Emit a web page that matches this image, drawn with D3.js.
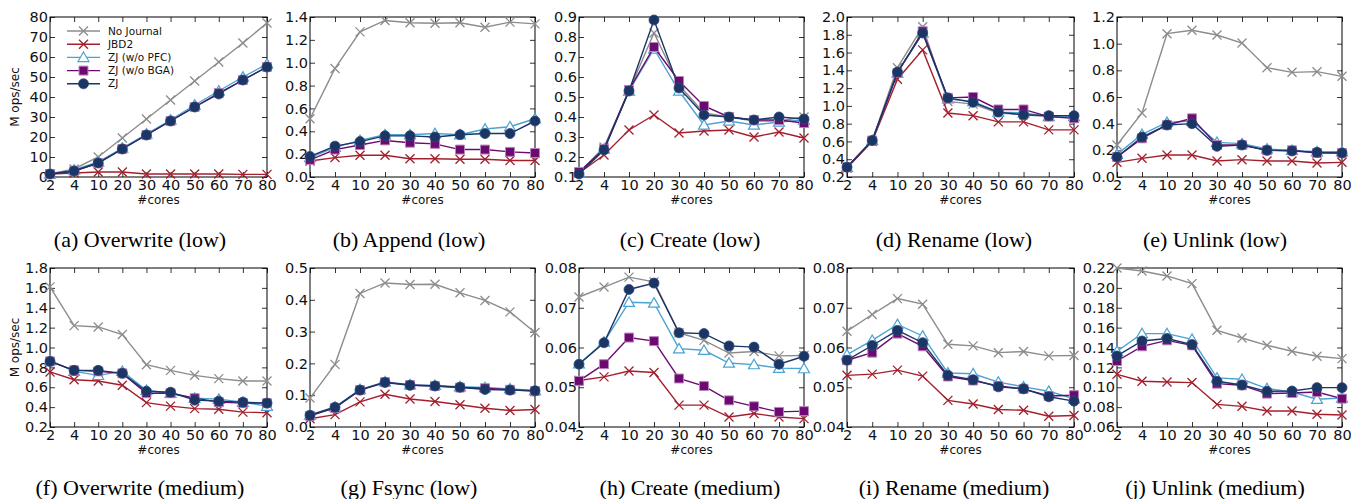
<!DOCTYPE html>
<html>
<head>
<meta charset="utf-8">
<script src="https://cdn.jsdelivr.net/npm/d3@7"></script>
<style>
  body { margin: 0; background: #fff; }
  svg { display: block; }
</style>
</head>
<body>
<svg id="chart"></svg>
<script>
const width = 1351;
const height = 499;

// x categories
const cores = [2, 4, 10, 20, 30, 40, 50, 60, 70, 80];
const seriesNames = ["No Journal", "JBD2", "ZJ (w/o PFC)", "ZJ (w/o BGA)", "ZJ"];

// each panel: [noJournal, jbd2, zjNoPfc, zjNoBga, zj]
const overwriteLow = [
  [1.5, 4, 10, 19.5, 29, 38.5, 48, 57.5, 67, 77],
  [1.5, 2, 2.5, 2.5, 1.5, 1.5, 1.5, 1.5, 1.3, 1.3],
  [1.5, 3.5, 7.5, 14.5, 21.5, 28.5, 36, 43, 50, 56.5],
  [1.5, 3, 7, 14, 21, 28, 35, 42, 48.5, 55],
  [1.5, 3, 7, 14, 21, 28, 35, 41.5, 48.5, 55]
];
const appendLow = [
  [0.51, 0.95, 1.27, 1.37, 1.35, 1.345, 1.35, 1.31, 1.355, 1.34],
  [0.14, 0.17, 0.19, 0.19, 0.16, 0.16, 0.155, 0.155, 0.145, 0.145],
  [0.17, 0.26, 0.32, 0.37, 0.37, 0.38, 0.37, 0.42, 0.44, 0.51],
  [0.15, 0.24, 0.28, 0.32, 0.30, 0.29, 0.24, 0.24, 0.22, 0.21],
  [0.18, 0.27, 0.31, 0.36, 0.36, 0.35, 0.37, 0.38, 0.38, 0.49]
];
const createLow = [
  [0.12, 0.25, 0.53, 0.82, 0.56, 0.42, 0.40, 0.38, 0.38, 0.40],
  [0.12, 0.21, 0.335, 0.41, 0.32, 0.33, 0.335, 0.30, 0.325, 0.295],
  [0.12, 0.24, 0.53, 0.74, 0.53, 0.36, 0.38, 0.36, 0.375, 0.385],
  [0.125, 0.24, 0.535, 0.75, 0.58, 0.455, 0.40, 0.385, 0.385, 0.37],
  [0.115, 0.235, 0.53, 0.885, 0.545, 0.41, 0.40, 0.385, 0.40, 0.39]
];
const renameLow = [
  [0.31, 0.61, 1.43, 1.89, 1.05, 1.02, 0.92, 0.90, 0.88, 0.87],
  [0.30, 0.60, 1.30, 1.63, 0.92, 0.89, 0.82, 0.82, 0.73, 0.73],
  [0.31, 0.61, 1.37, 1.82, 1.08, 1.05, 0.93, 0.92, 0.88, 0.88],
  [0.31, 0.61, 1.37, 1.84, 1.09, 1.10, 0.96, 0.96, 0.88, 0.86],
  [0.31, 0.61, 1.38, 1.82, 1.09, 1.04, 0.93, 0.90, 0.89, 0.89]
];
const unlinkLow = [
  [0.24, 0.48, 1.075, 1.10, 1.065, 1.005, 0.82, 0.785, 0.79, 0.755],
  [0.11, 0.14, 0.165, 0.165, 0.12, 0.13, 0.12, 0.12, 0.105, 0.11],
  [0.17, 0.32, 0.41, 0.42, 0.26, 0.25, 0.21, 0.20, 0.19, 0.19],
  [0.15, 0.29, 0.39, 0.44, 0.24, 0.24, 0.20, 0.20, 0.18, 0.18],
  [0.15, 0.30, 0.39, 0.40, 0.23, 0.24, 0.20, 0.195, 0.185, 0.18]
];
const overwriteMedium = [
  [1.61, 1.22, 1.207, 1.13, 0.827, 0.77, 0.72, 0.687, 0.663, 0.663],
  [0.754, 0.676, 0.663, 0.62, 0.445, 0.41, 0.385, 0.378, 0.35, 0.344],
  [0.87, 0.76, 0.72, 0.76, 0.57, 0.54, 0.49, 0.48, 0.45, 0.41],
  [0.86, 0.77, 0.76, 0.74, 0.54, 0.54, 0.49, 0.45, 0.44, 0.44],
  [0.86, 0.77, 0.77, 0.74, 0.56, 0.55, 0.47, 0.46, 0.45, 0.44]
];
const fsyncLow = [
  [0.091, 0.197, 0.42, 0.453, 0.448, 0.449, 0.422, 0.398, 0.362, 0.297],
  [0.026, 0.039, 0.079, 0.103, 0.088, 0.08, 0.07, 0.059, 0.052, 0.055],
  [0.038, 0.063, 0.118, 0.142, 0.133, 0.131, 0.127, 0.124, 0.12, 0.115],
  [0.035, 0.06, 0.116, 0.141, 0.132, 0.129, 0.124, 0.122, 0.117, 0.113],
  [0.037, 0.062, 0.116, 0.14, 0.131, 0.129, 0.125, 0.118, 0.116, 0.114]
];
const createMedium = [
  [0.0727, 0.0752, 0.0777, 0.0765, 0.0637, 0.0618, 0.0586, 0.059, 0.0579, 0.058],
  [0.0517, 0.0526, 0.0541, 0.0537, 0.0455, 0.0455, 0.0425, 0.0434, 0.0425, 0.0421],
  [0.0559, 0.0614, 0.0714, 0.0712, 0.0597, 0.0593, 0.0561, 0.0557, 0.0548, 0.0547],
  [0.0516, 0.0558, 0.0625, 0.0616, 0.0522, 0.0503, 0.0467, 0.0452, 0.0438, 0.044],
  [0.0558, 0.0612, 0.0746, 0.0762, 0.0637, 0.0635, 0.0604, 0.0601, 0.0558, 0.0578]
];
const renameMedium = [
  [0.0641, 0.0683, 0.0723, 0.0709, 0.0608, 0.0604, 0.0587, 0.059, 0.0579, 0.058],
  [0.053, 0.0533, 0.0543, 0.0528, 0.0467, 0.0458, 0.0444, 0.0442, 0.0427, 0.0429],
  [0.0582, 0.0618, 0.0658, 0.0629, 0.0536, 0.0534, 0.0513, 0.0501, 0.049, 0.0471],
  [0.0568, 0.0587, 0.0635, 0.0603, 0.0527, 0.0517, 0.0503, 0.0496, 0.0478, 0.048],
  [0.0568, 0.0605, 0.0643, 0.0612, 0.053, 0.0519, 0.0501, 0.0496, 0.0476, 0.0465]
];
const unlinkMedium = [
  [0.22, 0.217, 0.212, 0.2043, 0.1573, 0.1496, 0.1422, 0.1362, 0.1312, 0.1288],
  [0.113, 0.106, 0.1053, 0.1047, 0.0828, 0.0808, 0.0761, 0.0761, 0.0728, 0.0721],
  [0.1362, 0.154, 0.154, 0.1483, 0.1094, 0.108, 0.0986, 0.0952, 0.0879, 0.0892],
  [0.1264, 0.1412, 0.1472, 0.1422, 0.1036, 0.102, 0.0936, 0.0942, 0.0952, 0.0885],
  [0.1315, 0.1466, 0.149, 0.1429, 0.106, 0.1023, 0.0959, 0.0962, 0.0996, 0.0996]
];

// y-axis ranges and tick steps per panel
const yDomains = [[0, 80], [0, 1.4], [0.1, 0.9], [0.2, 2.0], [0, 1.2],
                  [0.2, 1.8], [0, 0.5], [0.04, 0.08], [0.04, 0.08], [0.06, 0.22]];
const yStepsList = [10, 0.2, 0.1, 0.2, 0.2, 0.2, 0.1, 0.01, 0.01, 0.02];
const yFormats = ["d", ".1f", ".1f", ".1f", ".1f", ".1f", ".1f", ".2f", ".2f", ".2f"];
const captions = ["(a) Overwrite (low)", "(b) Append (low)", "(c) Create (low)", "(d) Rename (low)", "(e) Unlink (low)",
                  "(f) Overwrite (medium)", "(g) Fsync (low)", "(h) Create (medium)", "(i) Rename (medium)", "(j) Unlink (medium)"];
const panelData = [overwriteLow, appendLow, createLow, renameLow, unlinkLow,
                   overwriteMedium, fsyncLow, createMedium, renameMedium, unlinkMedium];

// styling
const colors = ["#8c8c8c", "#a31f2e", "#4ba3d3", "#6c0a72", "#1b3564"];
const markers = ["x", "x", "triangle", "square", "circle"];

// layout of the plot boxes
const colLeft = [50, 310, 579, 847, 1117];
const colRight = [267, 535, 804, 1074, 1342];
const rowTop = [17, 268];
const rowBottom = [177, 427];
const captionX = [140, 409, 690, 954, 1215];
const captionY = [247, 495];

const svg = d3.select("#chart")
    .attr("width", width)
    .attr("height", height)
    .style("font-family", "'DejaVu Sans', sans-serif");

function drawMarker(g, type, x, y, color) {
    if (type === "x") {
        const s = 4.5;
        g.append("path")
            .attr("d", `M${x - s},${y - s}L${x + s},${y + s}M${x - s},${y + s}L${x + s},${y - s}`)
            .attr("stroke", color)
            .attr("stroke-width", 1.3)
            .attr("fill", "none");
    } else if (type === "triangle") {
        g.append("path")
            .attr("transform", `translate(${x},${y + 1})`)
            .attr("d", d3.symbol().type(d3.symbolTriangle).size(52)())
            .attr("fill", "#fff")
            .attr("stroke", color)
            .attr("stroke-width", 1.2);
    } else if (type === "square") {
        g.append("path")
            .attr("transform", `translate(${x},${y})`)
            .attr("d", d3.symbol().type(d3.symbolSquare).size(80)())
            .attr("fill", color)
            .attr("stroke", "#b784bb")
            .attr("stroke-width", 1);
    } else {
        g.append("circle")
            .attr("cx", x)
            .attr("cy", y)
            .attr("r", 5)
            .attr("fill", color)
            .attr("stroke", "#2d4a7a")
            .attr("stroke-width", 0.8);
    }
}

panelData.forEach((series, p) => {
    const row = Math.floor(p / 5);
    const col = p % 5;
    const left = colLeft[col], right = colRight[col];
    const top = rowTop[row], bottom = rowBottom[row];

    const x = d3.scalePoint().domain(cores).range([left, right]).padding(0);
    const [y0, y1] = yDomains[p];
    const y = d3.scaleLinear().domain([y0, y1]).range([bottom, top]);
    const step = yStepsList[p];
    const nTicks = Math.round((y1 - y0) / step);
    const yTicks = d3.range(nTicks + 1).map(i => y0 + i * step);
    const fmt = d3.format(yFormats[p]);

    const g = svg.append("g");

    // axes: ticks point inward, labels outside
    const xAxisB = g.append("g")
        .attr("transform", `translate(0,${bottom})`)
        .call(d3.axisBottom(x).tickSize(-5).tickPadding(3));
    const xAxisT = g.append("g")
        .attr("transform", `translate(0,${top})`)
        .call(d3.axisTop(x).tickSize(-5).tickFormat(""));
    const yAxisL = g.append("g")
        .attr("transform", `translate(${left},0)`)
        .call(d3.axisLeft(y).tickValues(yTicks).tickFormat(fmt).tickSize(-5).tickPadding(2));
    const yAxisR = g.append("g")
        .attr("transform", `translate(${right},0)`)
        .call(d3.axisRight(y).tickValues(yTicks).tickSize(-5).tickFormat(""));

    [xAxisB, xAxisT, yAxisL, yAxisR].forEach(a => {
        a.select(".domain").remove();
        a.selectAll("line").attr("stroke", "#000").attr("stroke-width", 0.8);
        a.selectAll("text")
            .attr("font-size", "14.5px")
            .attr("fill", "#111")
            .style("font-family", "'DejaVu Sans', sans-serif");
    });

    // frame
    g.append("rect")
        .attr("x", left)
        .attr("y", top)
        .attr("width", right - left)
        .attr("height", bottom - top)
        .attr("fill", "none")
        .attr("stroke", "#000")
        .attr("stroke-width", 1);

    // series
    const line = d3.line()
        .x((d, i) => x(cores[i]))
        .y(d => y(d));

    series.forEach((vals, s) => {
        g.append("path")
            .datum(vals)
            .attr("fill", "none")
            .attr("stroke", colors[s])
            .attr("stroke-width", 1.4)
            .attr("d", line);
        vals.forEach((v, i) => drawMarker(g, markers[s], x(cores[i]), y(v), colors[s]));
    });

    // x label
    g.append("text")
        .attr("x", (left + right) / 2)
        .attr("y", bottom + 27)
        .attr("text-anchor", "middle")
        .attr("font-size", "12px")
        .attr("fill", "#111")
        .text("#cores");

    // y label on the first column
    if (col === 0) {
        g.append("text")
            .attr("transform", `translate(19,${(top + bottom) / 2}) rotate(-90)`)
            .attr("text-anchor", "middle")
            .attr("font-size", "12px")
            .attr("fill", "#111")
            .text("M ops/sec");
    }

    // caption
    svg.append("text")
        .attr("x", captionX[col])
        .attr("y", captionY[row])
        .attr("text-anchor", "middle")
        .attr("font-size", "22px")
        .style("font-family", "'Liberation Serif', 'Times New Roman', serif")
        .attr("fill", "#000")
        .text(captions[p]);
});

// legend inside panel (a)
const legend = svg.append("g");
seriesNames.forEach((name, s) => {
    const ly = 31 + s * 13.2;
    legend.append("line")
        .attr("x1", 67).attr("x2", 100)
        .attr("y1", ly).attr("y2", ly)
        .attr("stroke", colors[s])
        .attr("stroke-width", 1.4);
    drawMarker(legend, markers[s], 83.5, ly, colors[s]);
    legend.append("text")
        .attr("x", 108)
        .attr("y", ly)
        .attr("dy", "0.35em")
        .attr("font-size", "10.5px")
        .attr("fill", "#111")
        .text(name);
});
</script>
</body>
</html>
